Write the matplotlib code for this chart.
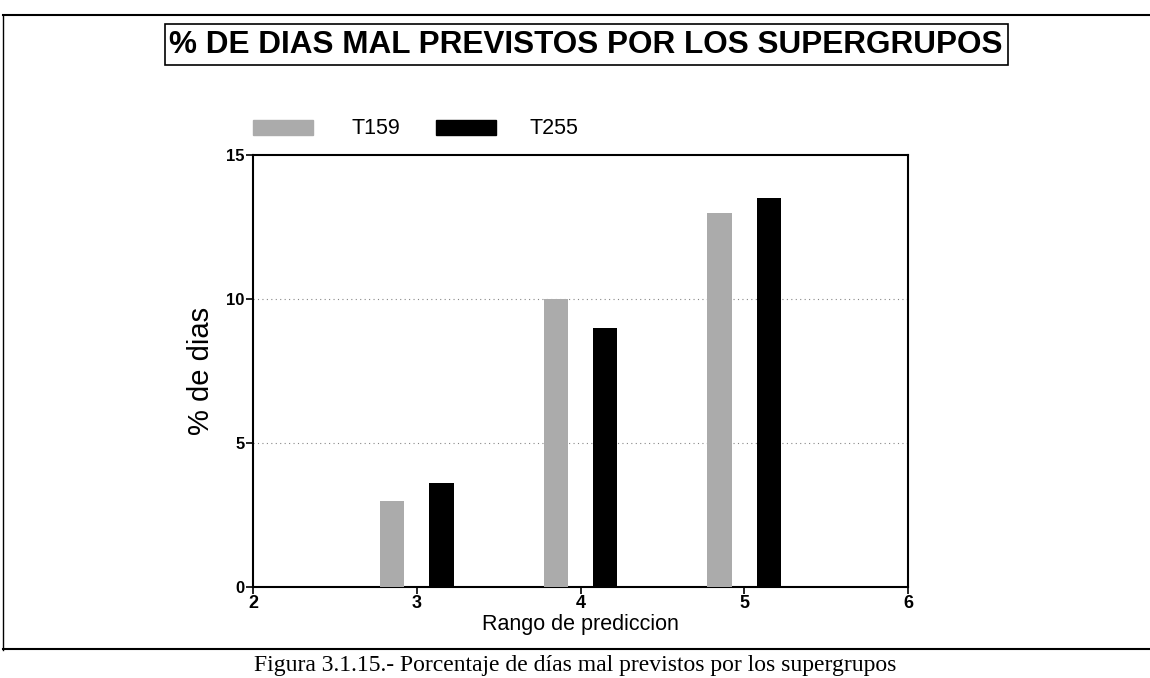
import matplotlib
matplotlib.use("Agg")
import matplotlib.pyplot as plt
from matplotlib.lines import Line2D
from matplotlib.patches import Rectangle

categories = [3, 4, 5]
t159 = [3.0, 10.0, 13.0]
t255 = [3.6, 9.0, 13.5]
series_names = ["T159", "T255"]
y_ticks = [0, 5, 10, 15]
x_ticks = [2, 3, 4, 5, 6]

W, H = 1150, 678
fig = plt.figure(figsize=(W / 100, H / 100), dpi=100)
fig.patch.set_facecolor("white")

def fx(px):
    return px / W

def fy(py):
    return 1 - py / H

ax = fig.add_axes([fx(253), fy(587), fx(908) - fx(253), fy(155) - fy(587)])

off = 0.15
width = 0.15
gray = "#ababab"
ax.bar([c - off for c in categories], t159, width=width, color=gray, edgecolor="none", zorder=3)
ax.bar([c + off for c in categories], t255, width=width, color="black", edgecolor="none", zorder=3)

ax.set_xlim(2, 6)
ax.set_ylim(0, 15)
ax.set_xticks(x_ticks)
ax.set_yticks(y_ticks)
ax.set_xticklabels([str(t) for t in x_ticks], fontsize=13, fontweight="bold", family="Liberation Sans")
ax.set_yticklabels([str(t) for t in y_ticks], fontsize=12, fontweight="bold", family="Liberation Sans")
ax.tick_params(axis="both", direction="out", length=5, width=1.2, pad=1)
for s in ax.spines.values():
    s.set_linewidth(1.5)
for yv in [5, 10]:
    ax.axhline(yv, color="#888888", linestyle=(0, (1, 3)), linewidth=0.8, zorder=1)

ax.set_xlabel("Rango de prediccion", fontsize=15.5, family="Liberation Sans", labelpad=1)
ax.set_ylabel("% de dias", fontsize=21, family="Liberation Sans", labelpad=8)

# legend
fig.patches.append(Rectangle((fx(253), fy(135)), fx(313) - fx(253), fy(120) - fy(135),
                             transform=fig.transFigure, color=gray, zorder=2))
fig.patches.append(Rectangle((fx(436), fy(135)), fx(496) - fx(436), fy(120) - fy(135),
                             transform=fig.transFigure, color="black", zorder=2))
fig.text(fx(352), fy(128), series_names[0], fontsize=15.5, family="Liberation Sans", va="center", ha="left")
fig.text(fx(530), fy(128), series_names[1], fontsize=15.5, family="Liberation Sans", va="center", ha="left")

# title box
fig.patches.append(Rectangle((fx(165), fy(65)), fx(1008) - fx(165), fy(24) - fy(65),
                             transform=fig.transFigure, fill=False, edgecolor="black", linewidth=1.2))
fig.text(fx(586), fy(45), "% DE DIAS MAL PREVISTOS POR LOS SUPERGRUPOS", fontsize=22.7,
         fontweight="bold", family="Liberation Sans", ha="center", va="center")

# outer frame
fig.lines.append(Line2D([fx(3), fx(1150)], [fy(15), fy(15)], transform=fig.transFigure, color="black", linewidth=1.5))
fig.lines.append(Line2D([fx(3), fx(3)], [fy(15), fy(650)], transform=fig.transFigure, color="black", linewidth=1.0))
fig.lines.append(Line2D([fx(3), fx(1150)], [fy(649), fy(649)], transform=fig.transFigure, color="black", linewidth=1.5))

fig.text(fx(575), fy(666), "Figura 3.1.15.- Porcentaje de días mal previstos por los supergrupos",
         fontsize=17, family="Liberation Serif", ha="center", va="center")

fig.savefig("out.png", dpi=100)
